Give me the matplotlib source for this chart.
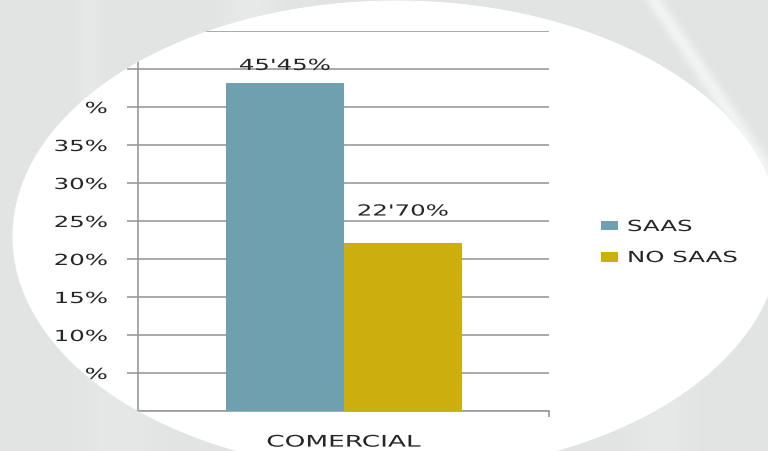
import numpy as np
import matplotlib
matplotlib.use("Agg")
import matplotlib.pyplot as plt
from matplotlib.patches import Patch
from matplotlib.patheffects import AbstractPathEffect
from matplotlib.transforms import Affine2D

# data
categories = ["COMERCIAL"]
series = ["SAAS", "NO SAAS"]
values = [43.1, 22.1]              # bar heights as drawn
value_labels = ["45'45%", "22'70%"]  # labels as printed
label_offsets = [18, 32]           # px above bar top
colors = ["#6ea0b0", "#ccaf0c"]
yticks = [0, 5, 10, 15, 20, 25, 30, 35, 40, 45, 50]
ytick_labels = ["", "%", "10%", "15%", "20%", "25%", "30%", "35%", "%", "", ""]


class Stretch(AbstractPathEffect):
    """draw text wider than the font, like the original's stretched type"""
    def __init__(self, sx=1.6, anchor="center"):
        super().__init__()
        self.sx = sx
        self.anchor = anchor

    def draw_path(self, renderer, gc, tpath, affine, rgbFace=None):
        v = tpath.vertices
        if len(v) == 0:
            return
        if self.anchor == "left":
            x0 = 0.0
        elif self.anchor == "right":
            x0 = v[:, 0].max()
        else:
            x0 = (v[:, 0].min() + v[:, 0].max()) / 2
        t = Affine2D().translate(-x0, 0).scale(self.sx, 1).translate(x0, 0) + affine
        renderer.draw_path(gc, tpath, t, rgbFace)


W, H = 768, 452
fig = plt.figure(figsize=(W / 100, H / 100), dpi=100)
fig.patch.set_facecolor("white")

ax = fig.add_axes([138 / W, 1 - 412 / H, (549 - 138) / W, (412 - 32) / H])
ax.set_facecolor("none")

txt = "#262626"
bw = 118 / 411
xs = [-bw / 2, bw / 2]
for x, v, c, s, lab, off in zip(xs, values, colors, series, value_labels, label_offsets):
    ax.bar(x, v, width=bw, color=c, label=s, zorder=3)
    ax.annotate(lab, (x, v), xytext=(0, off), textcoords="offset pixels",
                ha="center", va="center", fontsize=11, color=txt,
                path_effects=[Stretch(1.6, "center")])

ax.set_xlim(-0.5, 0.5)
ax.set_ylim(0, 50)
ax.set_yticks(yticks)
ax.set_yticklabels(ytick_labels, fontsize=11, color=txt)
ax.yaxis.grid(True, color="#9a9a9a", linewidth=1.2, zorder=0)
ax.set_axisbelow(True)
ax.tick_params(axis="y", length=8, width=1.2, color="#9a9a9a", pad=14)
for t in ax.get_yticklabels():
    t.set_path_effects([Stretch(1.6, "right")])

ax.set_xticks([0])
ax.set_xticklabels(categories, fontsize=11.5, color=txt)
ax.tick_params(axis="x", length=0, pad=17)
for t in ax.get_xticklabels():
    t.set_path_effects([Stretch(1.65, "center")])
ax.set_xticks([-0.5, 0.5], minor=True)
ax.tick_params(axis="x", which="minor", length=4.5, width=1.2, color="#9a9a9a")

for sp in ["top", "right"]:
    ax.spines[sp].set_visible(False)
for sp in ["left", "bottom"]:
    ax.spines[sp].set_color("#9a9a9a")
    ax.spines[sp].set_linewidth(1.2)

handles = [Patch(facecolor=c, label=s) for c, s in zip(colors, series)]
leg = fig.legend(handles=handles, loc="upper left", bbox_to_anchor=(601 / W, 1 - 220 / H),
                 frameon=False, fontsize=11, handlelength=1.1, handleheight=0.6,
                 handletextpad=0.6, labelspacing=1.05, borderpad=0, borderaxespad=0)
for t in leg.get_texts():
    t.set_color(txt)
    t.set_path_effects([Stretch(1.6, "left")])

# grey backdrop outside the white oval
yy, xx = np.mgrid[0:H, 0:W].astype(float)
cx, cy, a, b = 396, 237, 384, 236
r = np.sqrt(((xx - cx) / a) ** 2 + ((yy - cy) / b) ** 2)
alpha = np.clip((r - 1) * 300 + 0.5, 0, 1)

base = np.full((H, W), 226.0)
# soft lighter streaks in the backdrop
base += 16 * np.exp(-((xx - (653 + 0.67 * yy)) / 9) ** 2) * (yy < 200)
base += 6 * np.exp(-((xx - 250) / 25) ** 2) * (yy < 90)
base += 5 * np.exp(-((xx - 90) / 12) ** 2) * (yy < 200)
base += 5 * np.exp(-((xx - 660) / 30) ** 2) * (yy > 380)
base += 4 * np.exp(-((xx - 120) / 40) ** 2) * (yy > 250)
base = np.clip(base, 0, 255) / 255

img = np.zeros((H, W, 4))
img[..., 0] = base
img[..., 1] = base + 2 / 255
img[..., 2] = base + 2 / 255
img[..., 3] = alpha
img = np.clip(img, 0, 1)

ov = fig.add_axes([0, 0, 1, 1], zorder=10)
ov.imshow(img, interpolation="bilinear", aspect="auto")
ov.set_axis_off()

fig.savefig("out.png", dpi=100)
